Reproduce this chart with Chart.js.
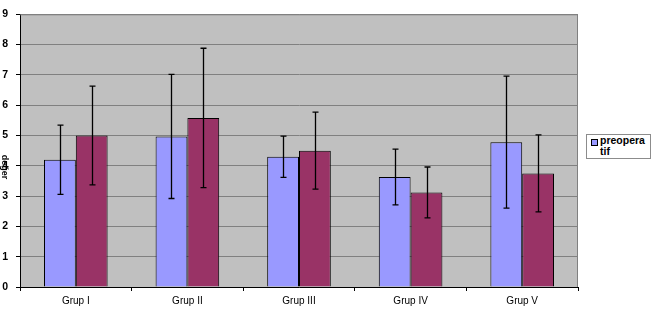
<!DOCTYPE html>
<html>
<head>
<meta charset="utf-8">
<script src="https://cdn.jsdelivr.net/npm/chart.js@4.4.0/dist/chart.umd.min.js"></script>
<style>
  html, body { margin: 0; padding: 0; background: #fff; }
  #wrap { position: relative; width: 655px; height: 319px; }
  #legend {
    position: absolute; left: 586px; top: 134px; width: 63px; height: 23px;
    border: 1px solid #8c8c8c; background: #fff;
    font: bold 10.5px "Liberation Sans", Arial, sans-serif; line-height: 11px; color: #000;
  }
  #legend .sw {
    position: absolute; left: 4px; top: 4px; width: 5px; height: 5px;
    border: 1px solid #000;
  }
  #legend .tx { position: absolute; left: 13px; top: 0px; width: 46px; word-break: break-all; }
  #ytitle {
    position: absolute; left: -11px; top: 162px; width: 32px; text-align: center;
    transform: rotate(90deg); font: bold 9px "Liberation Sans", Arial, sans-serif; color: #000;
  }
</style>
</head>
<body>
<div id="wrap">
  <canvas id="chart" width="655" height="319"></canvas>
  <div id="ytitle">değer</div>
  <div id="legend"></div>
</div>
<script>
// ── Dados ────────────────────────────────────────────
const categories = ['Grup I', 'Grup II', 'Grup III', 'Grup IV', 'Grup V'];
const seriesNames = ['preoperatif', 'postoperatif'];
const preValues  = [4.2, 4.97, 4.3, 3.63, 4.78];
const preSD      = [1.14, 2.05, 0.68, 0.92, 2.18];
const postValues = [5.0, 5.58, 4.5, 3.12, 3.75];
const postSD     = [1.63, 2.3, 1.27, 0.84, 1.27];
const yTicks     = [0, 1, 2, 3, 4, 5, 6, 7, 8, 9];

const COLORS = { pre: '#9999ff', post: '#993366', plot: '#c0c0c0', grid: '#808080' };
const FONT = '"Liberation Sans", Arial, sans-serif';

// fundo cinza + moldura da área do gráfico
const plotBackground = {
  id: 'plotBackground',
  beforeDraw(chart) {
    const { ctx, chartArea: a } = chart;
    ctx.save();
    ctx.fillStyle = COLORS.plot;
    ctx.fillRect(a.left, a.top, a.right - a.left, a.bottom - a.top);
    ctx.restore();
  },
  afterDatasetsDraw(chart) {
    const { ctx, chartArea: a } = chart;
    ctx.save();
    ctx.strokeStyle = COLORS.grid;
    ctx.lineWidth = 1;
    ctx.beginPath();
    ctx.moveTo(a.left, a.top + 0.5);
    ctx.lineTo(a.right - 0.5, a.top + 0.5);
    ctx.lineTo(a.right - 0.5, a.bottom);
    ctx.stroke();
    ctx.restore();
  }
};

// barras de erro (±SD)
const errorBars = {
  id: 'errorBars',
  afterDatasetsDraw(chart) {
    const { ctx } = chart;
    const y = chart.scales.y;
    ctx.save();
    ctx.strokeStyle = '#000';
    ctx.lineWidth = 1.3;
    chart.data.datasets.forEach((ds, i) => {
      const meta = chart.getDatasetMeta(i);
      meta.data.forEach((bar, j) => {
        const v = ds.data[j], sd = ds.sd[j];
        const x = Math.round(bar.x) + 0.5;
        const yHi = y.getPixelForValue(v + sd);
        const yLo = y.getPixelForValue(v - sd);
        ctx.beginPath();
        ctx.moveTo(x, yHi); ctx.lineTo(x, yLo);
        ctx.moveTo(x - 3, yHi); ctx.lineTo(x + 3, yHi);
        ctx.moveTo(x - 3, yLo); ctx.lineTo(x + 3, yLo);
        ctx.stroke();
      });
    });
    ctx.restore();
  }
};

const chart = new Chart(document.getElementById('chart'), {
  type: 'bar',
  data: {
    labels: categories,
    datasets: [
      { label: seriesNames[0], data: preValues, sd: preSD, backgroundColor: COLORS.pre,
        borderColor: '#000', borderWidth: 1 },
      { label: seriesNames[1], data: postValues, sd: postSD, backgroundColor: COLORS.post,
        borderColor: '#000', borderWidth: 1 }
    ]
  },
  options: {
    responsive: false,
    animation: false,
    layout: { padding: { top: 5, right: 77, left: 0, bottom: 0 } },
    datasets: { bar: { barPercentage: 1, categoryPercentage: 0.57 } },
    plugins: { legend: { display: false }, tooltip: { enabled: false } },
    scales: {
      x: {
        grid: { display: true, drawOnChartArea: false, tickLength: 4, color: '#000', offset: true },
        border: { color: '#000', width: 1 },
        ticks: { color: '#000', font: { family: FONT, size: 10 }, padding: 4 },
        afterFit(s) { s.height = 32; }
      },
      y: {
        min: 0, max: 9,
        afterBuildTicks(s) { s.ticks = yTicks.map(v => ({ value: v })); },
        grid: { color: COLORS.grid, tickLength: 4, tickColor: '#000' },
        border: { color: '#000', width: 1 },
        ticks: { color: '#000', font: { family: FONT, size: 10.5, weight: 'bold' }, padding: 8 },
        afterFit(s) { s.width = 20; }
      }
    }
  },
  plugins: [plotBackground, errorBars]
});

// legenda (só a primeira série aparece na caixa)
const leg = document.getElementById('legend');
leg.innerHTML = `<span class="sw" style="background:${COLORS.pre}"></span><span class="tx">${seriesNames[0]}</span>`;
</script>
</body>
</html>
